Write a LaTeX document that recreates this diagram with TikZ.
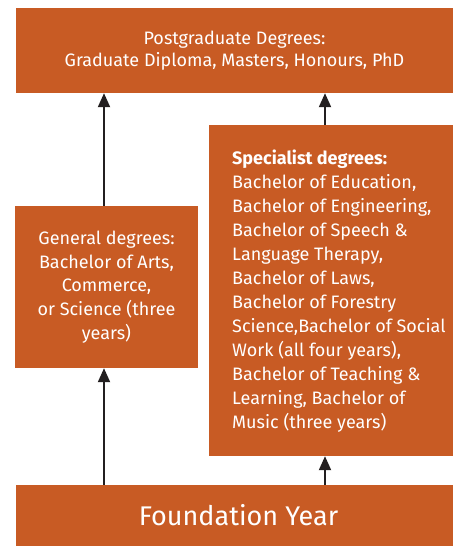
\documentclass[tikz,border=0pt]{standalone}
\usepackage{fontspec}
\setmainfont{Fira Sans}
\usetikzlibrary{arrows.meta}
\definecolor{boxorange}{RGB}{200,91,36}
\definecolor{arrowdark}{RGB}{35,31,32}
\begin{document}
\begin{tikzpicture}[x=1pt,y=-1pt,
  orangebox/.style={fill=boxorange,draw=none,inner sep=0pt,text=white,align=center},
  arr/.style={draw=arrowdark,line width=2pt,-{Triangle[length=14pt,width=12pt]}},
  txt/.style={text=white,inner sep=0pt}]
\useasboundingbox (0,0) rectangle (453,546);
\node[orangebox,minimum width=437pt,minimum height=85pt,font=\fontsize{18}{22.5}\selectfont] (pg) at (234.5,50.5)
  {Postgraduate Degrees:\\Graduate Diploma, Masters, Honours, PhD};
\node[orangebox,minimum width=183pt,minimum height=162pt,font=\fontsize{18}{23.8}\selectfont] (gen) at (106.5,287)
  {General degrees:\\Bachelor of Arts,\\Commerce,\\or Science (three\\years)};
\node[orangebox,minimum width=244pt,minimum height=331pt] (sp) at (331,290.5) {};
\node[txt,anchor=west,align=left,font=\fontsize{18}{24}\selectfont] (sptxt) at (232,291)
  {\textbf{Specialist degrees:}\\Bachelor of Education,\\Bachelor of Engineering,\\Bachelor of Speech \&\\Language Therapy,\\Bachelor of Laws,\\Bachelor of Forestry\\Science,Bachelor of Social\\Work (all four years),\\Bachelor of Teaching \&\\Learning, Bachelor of\\Music (three years)};
\node[orangebox,minimum width=437pt,minimum height=61pt,font=\fontsize{27}{30}\selectfont] (fy) at (234.5,515.5)
  {\hspace*{8pt}Foundation Year};
\coordinate (ax) at (104,0);
\coordinate (bx) at (325,0);
\draw[arr] (fy.north -| ax) -- (gen.south -| ax);
\draw[arr] (gen.north -| ax) -- (pg.south -| ax);
\draw[arr] (fy.north -| bx) -- (sp.south -| bx);
\draw[arr] (sp.north -| bx) -- (pg.south -| bx);
\end{tikzpicture}
\end{document}
